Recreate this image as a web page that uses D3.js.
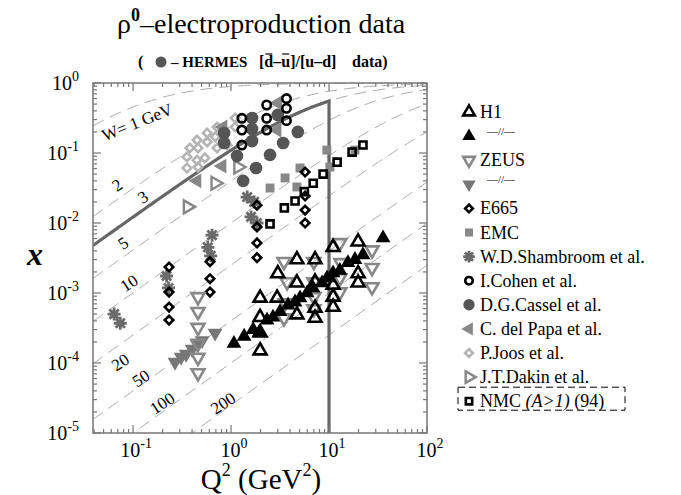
<!DOCTYPE html>
<html>
<head>
<meta charset="utf-8">
<script src="https://cdn.jsdelivr.net/npm/d3@7"></script>
<style>
body { margin: 0; background: #fff; }
</style>
</head>
<body>
<div id="chart"></div>
<script>
// layout
var total_width = 681,
    total_height = 495,
    plot = {left: 93, right: 427, top: 83, bottom: 433},
    proton_mass = 0.938,
    serif = "'Liberation Serif'";

// data points, [Q2 (GeV^2), x]
var h1_open = [[1.98,0.00085],[1.98,0.00045],[1.98,0.00027],[1.98,0.00015],[3.0,0.0019],[2.95,0.00085],
    [4.7,0.003],[4.7,0.0014],[4.7,0.00049],[7.2,0.003],[7.2,0.00144],[7.2,0.00061],[7.2,0.00044],
    [11,0.0045],[11,0.0013],[11,0.00088],[11,0.00063],[19.8,0.0054],[19.8,0.0019],[19.8,0.0014]]
var h1_filled = [[1.07,0.00019],[1.36,0.00024],[1.68,0.0003],[1.93,0.00027],[2.33,0.00041],[2.68,0.00045],
    [3.16,0.00054],[3.82,0.00067],[4.5,0.00074],[5.06,0.00085],[5.97,0.001],[6.87,0.00118],[8.5,0.00139],
    [9.55,0.00164],[11.0,0.00193],[12.9,0.0021],[15.6,0.0027],[18.4,0.003],[22.2,0.0035],[35.6,0.0061]]
var zeus_open = [[0.46,0.00088],[0.46,0.00054],[0.46,0.00032],[0.46,0.00019],[0.46,0.00012],[0.46,0.000072],
    [3.47,0.0028],[3.73,0.00144],[3.56,0.00072],[3.47,0.00044],[7.0,0.0028],[7.0,0.00144],[7.0,0.00088],
    [7.0,0.00059],[12.9,0.0052],[13.2,0.0027],[12.9,0.00164],[12.9,0.00103],[27.5,0.0041],[27.5,0.0023],[27.5,0.00122]]
var zeus_filled = [[0.268,0.000103],[0.309,0.000122],[0.348,0.000134],[0.40,0.000158],[0.45,0.000187],
    [0.506,0.00021],[0.687,0.000268]]
var e665 = [[5.7,0.0535],[5.7,0.0243],[5.7,0.0153],[5.7,0.010],[1.84,0.018],[1.84,0.0088],[1.84,0.0052],
    [1.84,0.0032],[0.61,0.0028],[0.61,0.0016],[0.61,0.00103],[0.233,0.00235],[0.233,0.00103],[0.233,0.00063],[0.233,0.00041]]
var emc = [[9.5,0.11],[10.2,0.063],[5.06,0.061],[3.56,0.044],[4.7,0.0327],[2.5,0.0316],[18.4,0.11]]
var shambroom = [[1.46,0.0235],[1.72,0.020],[1.60,0.0122],[1.84,0.010],[0.64,0.0067],[0.58,0.0045],[0.62,0.0034],
    [0.22,0.00175],[0.23,0.00118],[0.064,0.0005],[0.074,0.00037]]
var cohen = [[1.29,0.313],[1.29,0.213],[1.29,0.13],[2.31,0.485],[2.31,0.313],[2.31,0.213],[3.68,0.60],[3.68,0.435],[3.68,0.29]]
var cassel = [[0.85,0.193],[0.85,0.139],[1.15,0.091],[1.33,0.040],[1.64,0.316],[1.64,0.22],[1.64,0.148],[1.8,0.061],
    [2.5,0.094],[3.0,0.35],[3.4,0.139],[4.8,0.2]]
var del_papa = [[0.83,0.235],[0.81,0.065],[0.45,0.040],[3.0,0.52],[2.95,0.213]]
var joos = [[1.10,0.316],[1.10,0.235],[0.72,0.235],[0.57,0.193],[0.69,0.17],[0.45,0.153],[0.91,0.13],[0.57,0.144],
    [0.38,0.118],[0.46,0.118],[0.72,0.118],[0.355,0.088],[0.45,0.079],[0.54,0.085],[0.355,0.061],[0.46,0.063]]
var dakin = [[1.18,0.063],[0.69,0.037],[0.36,0.017]]
var nmc = [[22.2,0.13],[17.2,0.103],[12.1,0.074],[8.7,0.05],[6.9,0.037],[5.6,0.028],[4.5,0.0206],[3.5,0.0164],[2.5,0.0097]]

// constant-W lines (GeV) and their labels
var w_values = [1, 2, 3, 5, 10, 20, 50, 100, 200]
var w_label_text = ["W= 1 GeV", "2", "3", "5", "10", "20", "50", "100", "200"]
var w_label_q2 = [0.11, 0.0687, 0.126, 0.079, 0.0907, 0.0739, 0.12, 0.198, 0.829]
var w_label_x = [0.277, 0.0349, 0.0235, 0.00518, 0.00139, 0.000103, 0.000061, 0.0000268, 0.0000268]
var w_label_angle = [-22, -33, -33, -33, -33, -33, -33, -33, -33]
var w_cut = 3, q2_cut = 10

// legend
var legend_names = ["H1", "--//--", "ZEUS", "--//--", "E665", "EMC", "W.D.Shambroom et al.", "I.Cohen et al.",
    "D.G.Cassel et al.", "C. del Papa et al.", "P.Joos et al.", "J.T.Dakin et al.", "NMC"]
var legend_keys = ["h1_open", "h1_filled", "zeus_open", "zeus_filled", "e665", "emc", "shambroom", "cohen",
    "cassel", "del_papa", "joos", "dakin", "nmc"]

var series = {h1_open: h1_open, h1_filled: h1_filled, zeus_open: zeus_open, zeus_filled: zeus_filled,
    e665: e665, emc: emc, shambroom: shambroom, cohen: cohen, cassel: cassel, del_papa: del_papa,
    joos: joos, dakin: dakin, nmc: nmc}
var draw_order = ["joos", "dakin", "del_papa", "cassel", "cohen", "emc", "nmc", "shambroom", "e665",
    "zeus_filled", "zeus_open", "h1_filled", "h1_open"]

// marker styles
var styles = {
    h1_open:     {shape: "triangle", rot: 0,   size: 72, fill: "none", stroke: "#000", sw: 2.6},
    h1_filled:   {shape: "triangle", rot: 0,   size: 95, fill: "#000", stroke: "none", sw: 0},
    zeus_open:   {shape: "triangle", rot: 180, size: 72, fill: "none", stroke: "#888", sw: 2.6},
    zeus_filled: {shape: "triangle", rot: 180, size: 95, fill: "#777", stroke: "none", sw: 0},
    e665:        {shape: "square",   rot: 45,  size: 36, fill: "none", stroke: "#000", sw: 2.6},
    emc:         {shape: "square",   rot: 0,   size: 80, fill: "#888", stroke: "none", sw: 0},
    shambroom:   {shape: "asterisk", rot: 0,   size: 6.5, fill: "none", stroke: "#6a6a6a", sw: 2.8},
    cohen:       {shape: "circle",   rot: 0,   size: 55, fill: "none", stroke: "#000", sw: 2.6},
    cassel:      {shape: "circle",   rot: 0,   size: 125, fill: "#555", stroke: "none", sw: 0},
    del_papa:    {shape: "triangle", rot: -90, size: 95, fill: "#888", stroke: "none", sw: 0},
    joos:        {shape: "square",   rot: 45,  size: 36, fill: "none", stroke: "#b4b4b4", sw: 2.6},
    dakin:       {shape: "triangle", rot: 90,  size: 72, fill: "none", stroke: "#888", sw: 2.4},
    nmc:         {shape: "square",   rot: 0,   size: 50, fill: "none", stroke: "#000", sw: 2.6}
}

function symbol_path(st) {
    if (st.shape == "asterisk") {
        var r = st.size, a = r * Math.SQRT1_2
        return "M" + (-r) + ",0L" + r + ",0M0," + (-r) + "L0," + r +
            "M" + (-a) + "," + (-a) + "L" + a + "," + a + "M" + (-a) + "," + a + "L" + a + "," + (-a)
    }
    var type = {triangle: d3.symbolTriangle, square: d3.symbolSquare, circle: d3.symbolCircle}[st.shape]
    return d3.symbol().type(type).size(st.size)()
}

function draw_marker(g, key, px, py, scale) {
    var st = styles[key]
    g.append("path")
        .attr("d", symbol_path(st))
        .attr("transform", "translate(" + px + "," + py + ") rotate(" + st.rot + ") scale(" + (scale || 1) + ")")
        .attr("fill", st.fill)
        .attr("stroke", st.stroke)
        .attr("stroke-width", st.sw / (scale || 1))
}

// every text gets the serif face set on itself
function add_text(g, px, py, size) {
    return g.append("text")
        .attr("x", px).attr("y", py)
        .style("font-family", serif)
        .style("font-size", size + "px")
        .style("fill", "#000")
}

var svg = d3.select("#chart").append("svg")
    .attr("width", total_width)
    .attr("height", total_height)

var x = d3.scaleLog().domain([0.039, 100]).range([plot.left, plot.right])
var y = d3.scaleLog().domain([1e-5, 1]).range([plot.bottom, plot.top])

svg.append("defs").append("clipPath").attr("id", "clip")
    .append("rect")
    .attr("x", plot.left).attr("y", plot.top)
    .attr("width", plot.right - plot.left).attr("height", plot.bottom - plot.top)

// constant-W curves: x = Q2 / (Q2 + W^2 - M^2)
function x_of(q2, w) { return q2 / (q2 + w * w - proton_mass * proton_mass) }
var q2_grid = d3.range(0, 241).map(i => Math.pow(10, Math.log10(0.039) + i * (2 - Math.log10(0.039)) / 240))

var curve = d3.line().x(d => x(d[0])).y(d => y(d[1]))
var lines_g = svg.append("g").attr("clip-path", "url(#clip)")
w_values.forEach(function(w) {
    lines_g.append("path")
        .attr("d", curve(q2_grid.map(q => [q, x_of(q, w)])))
        .attr("fill", "none")
        .attr("stroke", "#a8a8a8")
        .attr("stroke-width", 1)
        .attr("stroke-dasharray", "12,7")
})

// solid kinematic boundary: W = 3 GeV up to Q2 = 10, then Q2 = 10
var cut_pts = q2_grid.filter(q => q < q2_cut).map(q => [q, x_of(q, w_cut)])
cut_pts.push([q2_cut, x_of(q2_cut, w_cut)])
cut_pts.push([q2_cut, 1e-5])
lines_g.append("path")
    .attr("d", curve(cut_pts))
    .attr("fill", "none")
    .attr("stroke", "#666")
    .attr("stroke-width", 3.2)

// W labels
w_label_text.forEach(function(t, i) {
    var px = x(w_label_q2[i]), py = y(w_label_x[i])
    add_text(svg, 0, 0, 17)
        .attr("transform", "translate(" + px + "," + py + ") rotate(" + w_label_angle[i] + ")")
        .attr("text-anchor", "middle")
        .attr("dy", "0.35em")
        .text(t)
})

// data points
var points_g = svg.append("g")
draw_order.forEach(function(key) {
    series[key].forEach(function(d) {
        draw_marker(points_g, key, x(d[0]), y(d[1]))
    })
})

// frame and ticks
var frame_col = "#777"
svg.append("rect")
    .attr("x", plot.left).attr("y", plot.top)
    .attr("width", plot.right - plot.left).attr("height", plot.bottom - plot.top)
    .attr("fill", "none").attr("stroke", frame_col).attr("stroke-width", 1.5)

function is_major(v) { return Math.abs(Math.log10(v) - Math.round(Math.log10(v))) < 1e-6 }
var ticks_g = svg.append("g").attr("stroke", frame_col).attr("stroke-width", 1.2)
x.ticks().forEach(function(v) {
    var len = is_major(v) ? 8 : 4, px = x(v)
    ticks_g.append("line").attr("x1", px).attr("x2", px).attr("y1", plot.bottom).attr("y2", plot.bottom - len)
    ticks_g.append("line").attr("x1", px).attr("x2", px).attr("y1", plot.top).attr("y2", plot.top + len)
})
y.ticks().forEach(function(v) {
    var len = is_major(v) ? 8 : 4, py = y(v)
    ticks_g.append("line").attr("y1", py).attr("y2", py).attr("x1", plot.left).attr("x2", plot.left + len)
    ticks_g.append("line").attr("y1", py).attr("y2", py).attr("x1", plot.right).attr("x2", plot.right - len)
})

// tick labels
function power_label(px, py, exp, anchor) {
    var t = add_text(svg, px, py, 20).attr("text-anchor", anchor)
    t.append("tspan").text("10")
    t.append("tspan").attr("dy", -9).style("font-size", "14px").text(exp)
}
x.ticks().filter(is_major).forEach(function(v) {
    power_label(x(v) + 3, plot.bottom + 24, String(Math.round(Math.log10(v))), "middle")
})
y.ticks().filter(is_major).forEach(function(v) {
    power_label(79, y(v) + 7, String(Math.round(Math.log10(v))), "end")
})

// axis titles
var xt = add_text(svg, 261, 489, 29).attr("text-anchor", "middle")
xt.append("tspan").text("Q")
xt.append("tspan").attr("dy", -13).style("font-size", "18px").text("2")
xt.append("tspan").attr("dy", 13).text(" (GeV")
xt.append("tspan").attr("dy", -13).style("font-size", "18px").text("2")
xt.append("tspan").attr("dy", 13).text(")")

add_text(svg, 35, 265, 32).attr("text-anchor", "middle")
    .style("font-weight", "bold").style("font-style", "italic")
    .text("x")

// title
var title = add_text(svg, 117, 33, 28)
title.append("tspan").text("\u03c1")
title.append("tspan").attr("dy", -12).style("font-size", "18px").style("font-weight", "bold").text("0")
title.append("tspan").attr("dy", 12).text("\u2013electroproduction data")

// subtitle
var sub_y = 67
add_text(svg, 138, sub_y, 16).style("font-weight", "bold").text("(")
svg.append("circle").attr("cx", 161).attr("cy", sub_y - 5).attr("r", 5.5).attr("fill", "#555")
add_text(svg, 171, sub_y, 15).style("font-weight", "bold").text("\u2013 HERMES")
var brk = add_text(svg, 259, sub_y, 16).style("font-weight", "bold").text("[d\u2013u]/[u\u2013d]")
add_text(svg, 352, sub_y, 16).style("font-weight", "bold").text("data)")
;[1, 3].forEach(function(ci) {
    var e = brk.node().getExtentOfChar(ci)
    svg.append("line")
        .attr("x1", e.x + 1).attr("x2", e.x + e.width - 1)
        .attr("y1", sub_y - 13).attr("y2", sub_y - 13)
        .attr("stroke", "#000").attr("stroke-width", 1.2)
})

// legend
var leg_x = 469, leg_y0 = 112, leg_dy = 24.1
legend_keys.forEach(function(key, i) {
    var ly = leg_y0 + i * leg_dy
    draw_marker(svg, key, leg_x, ly, 0.9)
    var name = legend_names[i]
    if (name == "--//--") {
        add_text(svg, 487, ly - 1, 11).text("\u2013\u2013//\u2013\u2013")
    } else if (key == "nmc") {
        var t = add_text(svg, 480, ly + 6, 18)
        t.append("tspan").text("NMC ")
        t.append("tspan").style("font-style", "italic").text("(A>1)")
        t.append("tspan").text(" (94)")
        svg.append("rect")
            .attr("x", 458).attr("y", ly - 14).attr("width", 167).attr("height", 23)
            .attr("fill", "none").attr("stroke", "#000").attr("stroke-width", 1)
            .attr("stroke-dasharray", "7,4")
    } else {
        add_text(svg, 480, ly + 6, 18).text(name)
    }
})
</script>
</body>
</html>
